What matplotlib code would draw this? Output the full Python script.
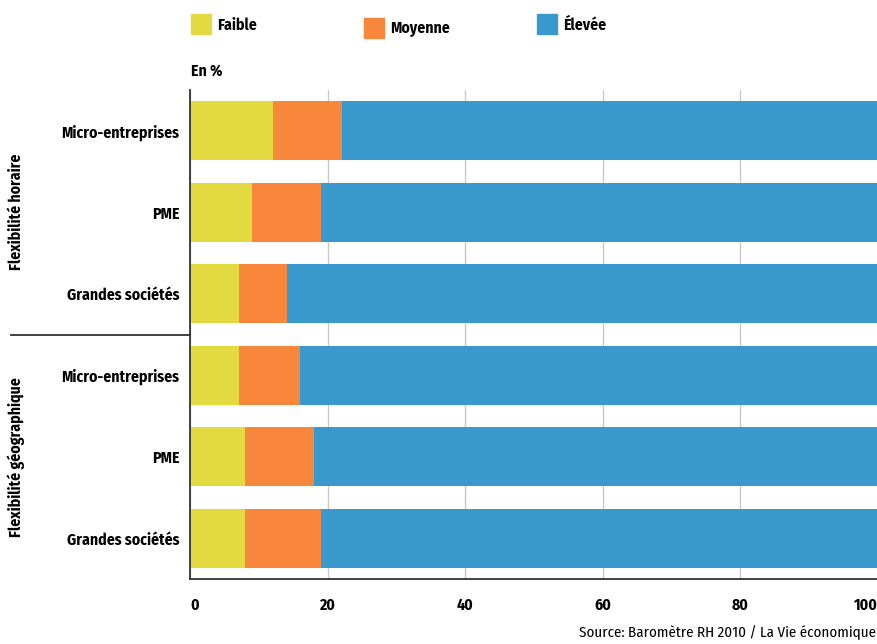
import matplotlib
matplotlib.use("Agg")
import matplotlib.pyplot as plt
from matplotlib.patches import Rectangle
import numpy as np

# Data (percent of firms)
groups = ["Flexibilité horaire", "Flexibilité géographique"]
sizes = ["Micro-entreprises", "PME", "Grandes sociétés"]
faible = [12, 9, 7, 7, 8, 8]
moyenne = [10, 10, 7, 9, 10, 11]
elevee = [100 - f - m for f, m in zip(faible, moyenne)]
series_names = ["Faible", "Moyenne", "Élevée"]
xticks = [0, 20, 40, 60, 80, 100]

colors = ["#E3D940", "#F8873C", "#3A99CC"]
FONT = ["Fira Sans Condensed", "DejaVu Sans"]
FS = 11.3
BOLD = 700

W, H = 878, 644
fig = plt.figure(figsize=(W / 100, H / 100), dpi=100)
ax = fig.add_axes([190.5 / W, 1 - 579 / H, (878 - 190.5) / W, (579 - 90) / H])

labels = sizes + sizes
y = np.arange(len(labels))
left = np.zeros(len(labels))
for vals, c in zip([faible, moyenne, elevee], colors):
    ax.barh(y, vals, left=left, height=0.72, color=c, zorder=2, linewidth=0)
    left += np.array(vals)

ax.set_ylim(len(labels) - 0.5, -0.5)
ax.set_xlim(0, 100)
ax.set_yticks(y)
ax.set_yticklabels(labels, family=FONT, fontweight=BOLD, fontsize=FS)
ax.tick_params(axis="y", length=0, pad=8)
ax.set_xticks(xticks)
ax.set_xticklabels([str(t) for t in xticks], family=FONT, fontweight=BOLD, fontsize=FS)
ax.tick_params(axis="x", length=0, pad=13)
xl = ax.get_xticklabels()
xl[0].set_ha("left")
xl[-1].set_ha("right")

ax.grid(axis="x", color="#c8c8c8", linewidth=1, zorder=0)
for s in ["top", "right"]:
    ax.spines[s].set_visible(False)
for s in ["left", "bottom"]:
    ax.spines[s].set_color("#333333")
    ax.spines[s].set_linewidth(1.3)

# Separator between the two groups, extending into the label area
sep_y = ax.transData.transform((0, 2.5))[1]
fig.add_artist(plt.Line2D([11 / W, 190.5 / W], [sep_y / fig.bbox.height] * 2,
                          color="#333333", lw=1.3, transform=fig.transFigure))

# Group labels
for gi, g in enumerate(groups):
    yc = ax.transData.transform((0, 1 + 3 * gi))[1] / fig.bbox.height
    fig.text(16 / W, yc, g, rotation=90, ha="center", va="center",
             family=FONT, fontweight=BOLD, fontsize=FS)

# Legend
legend_pos = [(191, 14), (364, 18), (537, 14)]
for (lx, ly), name, c in zip(legend_pos, series_names, colors):
    fig.patches.append(Rectangle((lx / W, 1 - (ly + 20) / H), 20 / W, 20 / H,
                                 transform=fig.transFigure, color=c))
    fig.text((lx + 26) / W, 1 - (ly + 11) / H, name, ha="left", va="center",
             family=FONT, fontweight=BOLD, fontsize=FS)

fig.text(191 / W, 1 - 71 / H, "En %", ha="left", va="center",
         family=FONT, fontweight=BOLD, fontsize=FS)
fig.text(876 / W, 1 - 633 / H, "Source: Baromètre RH 2010 / La Vie économique",
         ha="right", va="center", family=FONT, fontweight=400, fontsize=10.8)

fig.savefig("out.png", dpi=100)
